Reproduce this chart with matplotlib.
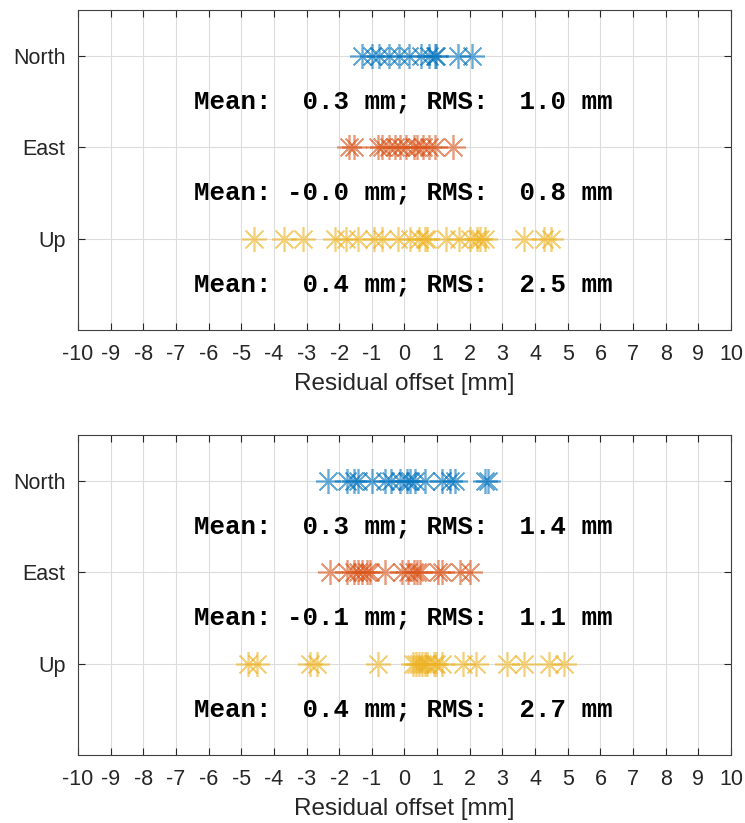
import matplotlib
matplotlib.use('Agg')
from matplotlib import pyplot as plt

# components and stats for both panels
components = ['North', 'East', 'Up']
colors = ['#0072BD', '#D95319', '#EDB120']

# panel 1 residuals [mm]
p1_north = [-1.30, -1.00, -0.79, -0.46, -0.18, 0.15, 0.50, 0.76, 0.92, 0.97, 1.65, 2.08]
p1_east = [-1.71, -1.56, -0.81, -0.69, -0.46, -0.28, -0.13, 0.05, 0.28, 0.38, 0.58, 0.74, 0.94, 1.50]
p1_up = [-4.62, -3.70, -3.11, -2.12, -1.79, -1.43, -0.92, -0.69, -0.20, 0.17, 0.43, 0.63, 0.68,
         1.28, 1.68, 2.01, 2.21, 2.30, 2.47, 3.66, 4.28, 4.49]
p1_mean = [0.3, -0.0, 0.4]
p1_rms = [1.0, 0.8, 2.5]

# panel 2 residuals [mm]
p2_north = [-2.33, -1.77, -1.56, -1.41, -1.00, -0.59, -0.40, -0.13, 0.07, 0.17, 0.33, 0.63,
            1.14, 1.40, 1.55, 2.47, 2.57]
p2_east = [-2.28, -1.77, -1.56, -1.41, -1.31, -1.15, -1.05, -0.59, -0.08, 0.12, 0.28, 0.38, 0.48,
           1.04, 1.14, 1.70, 2.01]
p2_up = [-4.78, -4.52, -2.89, -2.68, -0.80, 0.26, 0.35, 0.43, 0.55, 0.63, 0.70, 0.89, 0.95,
         1.14, 1.78, 2.19, 3.15, 3.67, 4.44, 4.90]
p2_mean = [0.3, -0.1, 0.4]
p2_rms = [1.4, 1.1, 2.7]

xticks = list(range(-10, 11))
xlabel = 'Residual offset [mm]'

plt.rcParams['font.family'] = ['Liberation Sans', 'DejaVu Sans']

fig = plt.figure(figsize=(7.45, 8.23), dpi=100)
ax1 = fig.add_axes([0.1047, 0.599, 0.8765, 0.3888])
ax2 = fig.add_axes([0.1047, 0.0826, 0.8765, 0.3888])


def draw_panel(ax, series, means, rmss):
    ypos = [3, 2, 1]
    for vals, y, c in zip(series, ypos, colors):
        ax.plot(vals, [y] * len(vals), linestyle='none', marker=(8, 2, 0),
                markersize=18, markeredgewidth=1.2, color=c, alpha=0.6)
    for m, r, y in zip(means, rmss, ypos):
        txt = 'Mean: %4.1f mm; RMS: %4.1f mm' % (m, r)
        ax.text(-0.05, y - 0.5, txt, ha='center', va='center',
                family='Liberation Mono', fontweight='bold', fontsize=18.5, color='black')
    ax.set_xlim(-10, 10)
    ax.set_ylim(0, 3.5)
    ax.set_xticks(xticks)
    ax.set_xticklabels([str(t) for t in xticks])
    ax.set_yticks(ypos)
    ax.set_yticklabels(components)
    ax.grid(True, color='#dcdcdc', linewidth=0.8)
    ax.set_axisbelow(True)
    ax.tick_params(direction='in', top=True, right=True, labelsize=15.5, colors='#262626',
                   length=5)
    ax.tick_params(axis='x', pad=10)
    ax.tick_params(axis='y', pad=9)
    for s in ax.spines.values():
        s.set_color('#404040')
        s.set_linewidth(0.8)
    ax.set_xlabel(xlabel, fontsize=17.5, color='#262626', labelpad=6)


draw_panel(ax1, [p1_north, p1_east, p1_up], p1_mean, p1_rms)
draw_panel(ax2, [p2_north, p2_east, p2_up], p2_mean, p2_rms)

plt.savefig('out.png', dpi=100, facecolor='white')
